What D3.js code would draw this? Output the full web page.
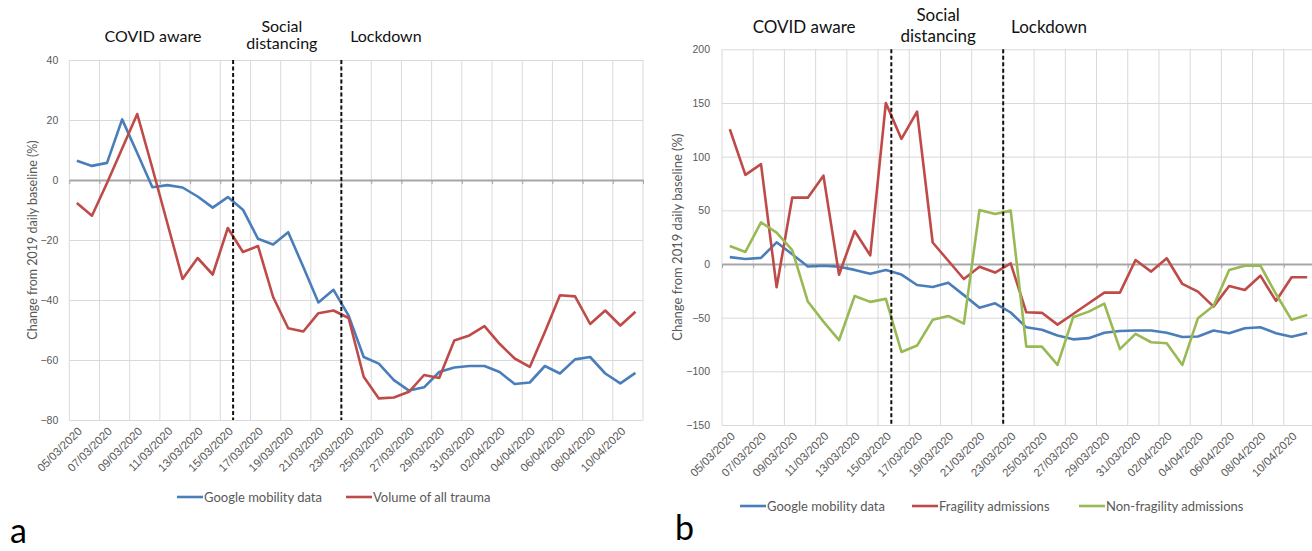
<!DOCTYPE html>
<html>
<head>
<meta charset="utf-8">
<script src="https://cdn.jsdelivr.net/npm/d3@7"></script>
<style>
  body { margin: 0; background: #fff; }
  svg { display: block; font-family: Lato, "Liberation Sans", sans-serif; }
</style>
</head>
<body>
<svg id="chart" width="1312" height="551"></svg>
<script>
// daily categories, 05/03/2020 .. 11/04/2020
const dates = [
  '05/03/2020','06/03/2020','07/03/2020','08/03/2020','09/03/2020','10/03/2020','11/03/2020','12/03/2020',
  '13/03/2020','14/03/2020','15/03/2020','16/03/2020','17/03/2020','18/03/2020','19/03/2020','20/03/2020',
  '21/03/2020','22/03/2020','23/03/2020','24/03/2020','25/03/2020','26/03/2020','27/03/2020','28/03/2020',
  '29/03/2020','30/03/2020','31/03/2020','01/04/2020','02/04/2020','03/04/2020','04/04/2020','05/04/2020',
  '06/04/2020','07/04/2020','08/04/2020','09/04/2020','10/04/2020','11/04/2020'
];

// % change from 2019 daily baseline
const mobility = [6.4, 4.7, 5.7, 20.2, 9, -2.4, -1.7, -2.5, -5.5, -9.2, -5.7, -9.9, -19.6, -21.5, -17.4, -29,
  -40.8, -36.6, -45.2, -59, -61.2, -66.7, -70.2, -69.1, -64, -62.5, -62, -62, -64, -68, -67.5, -62,
  -64.5, -59.8, -59, -64.5, -67.8, -64.3];
const allTrauma = [-7.7, -11.9, -1, 10.5, 22, 4, -14.5, -33, -26, -31.5, -16, -24, -22, -39, -49.4, -50.5,
  -44.4, -43.5, -46, -65.6, -72.8, -72.5, -70.6, -65, -66, -53.5, -51.8, -48.7, -54.6, -59.5, -62.3, -50.7,
  -38.4, -38.8, -48, -43.5, -48.5, -43.9];
const fragility = [125.5, 83, 93, -21.7, 61.8, 61.8, 82.3, -10, 30.7, 8, 150, 116.5, 142, 20, 3, -14,
  -2.5, -8, 0.5, -45, -45.5, -56.5, -46.6, -36.6, -26.7, -26.7, 3.7, -7.1, 5.3, -18.6, -25.7, -39.7,
  -20.5, -24.2, -10.9, -34.4, -12.4, -12.4];
const nonFragility = [16.8, 11.2, 38.8, 29.2, 13, -35, -53.7, -71, -29.8, -35.3, -32.5, -82, -76, -52, -48.4, -55.5,
  50.3, 46.6, 49.7, -77, -77, -94, -49.7, -44.4, -37, -79.3, -65.1, -72.9, -73.8, -94, -50.5, -39,
  -5.6, -1.6, -1.6, -28, -52, -47.4];

const ticksA = [-80, -60, -40, -20, 0, 20, 40];
const ticksB = [-150, -100, -50, 0, 50, 100, 150, 200];

// phase breaks, in day units from the first category edge
const phaseBreaks = [10.85, 18.02];
const phaseNames = [['COVID aware'], ['Social', 'distancing'], ['Lockdown']];

const yTitle = 'Change from 2019 daily baseline (%)';
const colors = { blue: '#4a7ebb', red: '#be4b48', green: '#98b954' };

const svg = d3.select('#chart');

function drawPanel(p) {
  const g = svg.append('g');
  const n = dates.length;

  const x = d3.scaleBand().domain(dates).range([p.left, p.right]);
  const xEdge = d3.scaleLinear().domain([0, n]).range([p.left, p.right]);
  const y = d3.scaleLinear().domain(p.yDomain).range([p.bottom, p.top]);
  const cx = d => x(d) + x.bandwidth() / 2;

  // horizontal grid + value labels
  const yAxis = g.append('g')
    .attr('transform', 'translate(' + p.left + ',0)')
    .call(d3.axisLeft(y).tickValues(p.ticks).tickSize(-(p.right - p.left)).tickPadding(p.tickPad));
  yAxis.select('.domain').remove();
  yAxis.selectAll('line').attr('stroke', '#d9d9d9');
  yAxis.selectAll('text').attr('fill', '#595959').style('font-size', p.tickFont + 'px');

  // vertical grid every two days
  const edges = d3.range(0, n + 1, 2);
  g.append('g').selectAll('line')
    .data(edges)
    .enter()
    .append('line')
    .attr('x1', d => xEdge(d)).attr('x2', d => xEdge(d))
    .attr('y1', p.top).attr('y2', p.bottom)
    .attr('stroke', '#d9d9d9');

  // zero axis with tick marks
  const zero = g.append('g')
    .attr('transform', 'translate(0,' + y(0) + ')')
    .call(d3.axisBottom(xEdge).tickValues(edges).tickSize(4).tickSizeOuter(0).tickFormat(''));
  zero.select('.domain').attr('stroke', '#a6a6a6').attr('stroke-width', 2);
  zero.selectAll('line').attr('stroke', '#a6a6a6');

  // date labels
  const xAxis = g.append('g')
    .attr('transform', 'translate(0,' + p.bottom + ')')
    .call(d3.axisBottom(x).tickValues(dates.filter((d, i) => i % 2 === 0)).tickSize(0));
  xAxis.select('.domain').remove();
  xAxis.selectAll('text')
    .attr('fill', '#595959')
    .style('font-size', p.dateFont + 'px')
    .attr('text-anchor', 'end')
    .attr('x', 0).attr('y', 0).attr('dy', '0.35em')
    .attr('transform', 'translate(3,' + p.labelDrop + ') rotate(-45)');

  // series
  const line = d3.line().x((v, i) => cx(dates[i])).y(v => y(v));
  p.series.forEach(s => {
    g.append('path')
      .datum(s.values)
      .attr('d', line)
      .attr('fill', 'none')
      .attr('stroke', s.color)
      .attr('stroke-width', 2.6)
      .attr('stroke-linejoin', 'round');
  });

  // phase breaks
  g.append('g').selectAll('line')
    .data(phaseBreaks)
    .enter()
    .append('line')
    .attr('x1', d => xEdge(d)).attr('x2', d => xEdge(d))
    .attr('y1', p.top).attr('y2', p.bottom)
    .attr('stroke', '#111')
    .attr('stroke-width', 2)
    .attr('stroke-dasharray', '4,2.5');

  // phase titles
  phaseNames.forEach((lines, k) => {
    const t = g.append('text')
      .attr('text-anchor', 'middle')
      .attr('fill', '#111')
      .style('font-size', p.phaseFont + 'px');
    lines.forEach((s, j) => {
      t.append('tspan')
        .attr('x', xEdge(p.phaseAt[k]))
        .attr('y', lines.length === 1 ? p.phaseY : p.phaseY2[j])
        .text(s);
    });
  });

  // y title
  g.append('text')
    .attr('transform', 'translate(' + p.titleX + ',' + ((p.top + p.bottom) / 2) + ') rotate(-90)')
    .attr('text-anchor', 'middle')
    .attr('fill', '#595959')
    .style('font-size', p.titleFont + 'px')
    .text(yTitle);

  // legend
  p.series.forEach((s, i) => {
    const lx = p.legendX[i];
    g.append('line')
      .attr('x1', lx).attr('x2', lx + 26)
      .attr('y1', p.legendY).attr('y2', p.legendY)
      .attr('stroke', s.color).attr('stroke-width', 2.6);
    g.append('text')
      .attr('x', lx + 27).attr('y', p.legendY).attr('dy', '0.35em')
      .attr('fill', '#595959')
      .style('font-size', p.legendFont + 'px')
      .text(s.name);
  });

  // panel letter
  g.append('text')
    .attr('x', p.letterX).attr('y', p.letterY)
    .attr('fill', '#000')
    .style('font-size', '34px')
    .text(p.letter);
}

drawPanel({
  left: 69.3, right: 643, top: 60, bottom: 420,
  yDomain: [-80, 40], ticks: ticksA, tickPad: 11, tickFont: 10.5, dateFont: 11.5, labelDrop: 9,
  series: [
    { name: 'Google mobility data', values: mobility, color: colors.blue },
    { name: 'Volume of all trauma', values: allTrauma, color: colors.red }
  ],
  phaseAt: [5.54, 14.08, 20.97], phaseY: 41.7, phaseY2: [31.7, 49.3], phaseFont: 16,
  titleX: 37, titleFont: 12.5,
  legendX: [177, 346], legendY: 497, legendFont: 13,
  letter: 'a', letterX: 10, letterY: 543
});

drawPanel({
  left: 722, right: 1315, top: 49.3, bottom: 425,
  yDomain: [-150, 200], ticks: ticksB, tickPad: 12, tickFont: 10.5, dateFont: 11.5, labelDrop: 9,
  series: [
    { name: 'Google mobility data', values: mobility, color: colors.blue },
    { name: 'Fragility admissions', values: fragility, color: colors.red },
    { name: 'Non-fragility admissions', values: nonFragility, color: colors.green }
  ],
  phaseAt: [5.26, 13.85, 20.96], phaseY: 32.7, phaseY2: [21, 41.7], phaseFont: 17,
  titleX: 682, titleFont: 13,
  legendX: [740, 912, 1079], legendY: 506, legendFont: 13,
  letter: 'b', letterX: 675, letterY: 540
});
</script>
</body>
</html>
